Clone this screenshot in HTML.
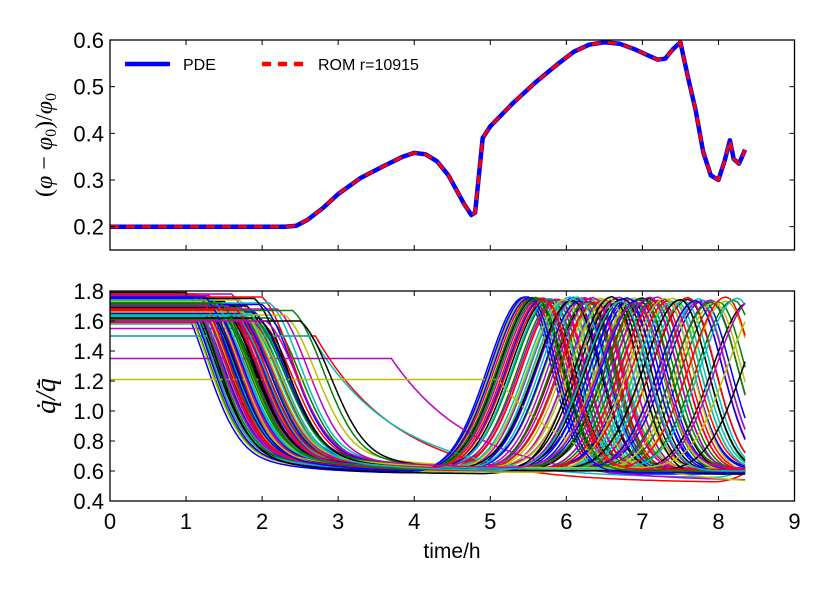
<!DOCTYPE html>
<html><head><meta charset="utf-8"><style>
html,body{margin:0;padding:0;background:#fff;}
svg{display:block;font-family:"Liberation Sans",sans-serif;}
</style></head><body>
<svg id="chart" width="830" height="593" viewBox="0 0 830 593">
<g id="top"></g>
<g id="bot"></g>
</svg>
<script>
const topT = [0,0.5,1,1.5,2,2.3,2.45,2.6,2.8,3.0,3.3,3.6,3.85,4.0,4.15,4.3,4.45,4.55,4.65,4.75,4.8,4.9,5.0,5.3,5.6,5.9,6.1,6.3,6.5,6.7,6.9,7.1,7.2,7.3,7.4,7.5,7.6,7.7,7.8,7.9,8.0,8.08,8.15,8.2,8.27,8.35];
const topV = [0.2,0.2,0.2,0.2,0.2,0.2,0.202,0.215,0.24,0.27,0.305,0.33,0.35,0.358,0.355,0.34,0.31,0.28,0.25,0.225,0.23,0.39,0.415,0.465,0.51,0.55,0.575,0.59,0.595,0.592,0.58,0.565,0.558,0.56,0.58,0.595,0.52,0.45,0.36,0.31,0.3,0.34,0.385,0.345,0.335,0.365];
const botLevels = [1.78,1.77,1.76,1.75,1.74,1.73,1.72,1.71,1.70,1.69,1.68,1.67,1.66,1.65,1.64,1.62,1.60,1.58,1.55,1.78,1.76,1.74,1.72,1.70,1.68,1.66,1.64,1.62,1.77,1.75,1.73,1.71,1.69,1.67,1.65,1.63,1.61,1.59,1.78,1.76,1.74,1.72,1.70,1.68,1.66,1.64,1.77,1.75,1.73,1.71,1.69,1.67,1.65,1.78,1.74,1.70,1.66,1.62,1.76,1.72,1.68,1.64,1.75,1.71,1.67,1.50,1.50,1.35,1.21,1.60,
 1.79,1.77,1.75,1.73,1.71,1.69,1.67,1.65,1.63,1.61,1.78,1.76,1.74,1.72,1.70,1.68,1.66,1.64,1.62,1.60,1.79,1.75,1.71,1.67,1.63,1.77,1.73,1.69,1.65,1.61,1.78,1.74,1.70,1.66,1.62,1.76,1.72,1.68,1.64,1.60];
const botDrop = [0.85,0.9,0.95,1.0,1.05,1.1,1.15,1.2,1.25,1.3,1.35,1.4,1.45,1.5,1.55,1.6,1.65,1.7,1.75,0.88,0.98,1.08,1.18,1.28,1.38,1.48,1.58,1.68,1.12,1.22,1.32,1.42,1.52,1.62,1.72,1.82,1.92,2.0,1.05,1.15,1.25,1.35,1.45,1.55,1.65,1.75,1.3,1.4,1.5,1.6,1.7,1.8,1.9,1.6,1.7,1.8,1.9,2.1,2.0,2.1,2.2,2.3,1.9,2.0,2.4,2.7,2.65,3.7,5.1,2.5,
 0.92,1.02,1.12,1.22,1.32,1.42,1.52,1.62,1.72,1.82,0.95,1.05,1.15,1.25,1.35,1.45,1.55,1.65,1.75,1.85,1.0,1.2,1.4,1.6,1.8,1.1,1.3,1.5,1.7,1.9,1.15,1.35,1.55,1.75,1.95,1.25,1.45,1.65,1.85,2.05];
const botPeak = [5.45,5.5,5.55,5.6,5.65,5.7,5.75,5.8,5.85,5.9,5.95,6.0,6.05,6.1,6.2,6.3,6.4,6.5,6.6,5.5,5.6,5.7,5.8,5.9,6.0,6.1,6.2,6.3,6.1,6.2,6.3,6.4,6.5,6.6,6.7,6.8,6.9,7.0,6.05,6.25,6.45,6.65,6.85,7.05,7.25,7.45,6.7,6.9,7.1,7.3,7.5,7.7,7.9,7.2,7.4,7.6,7.8,8.0,7.6,7.75,7.9,8.1,7.0,7.3,8.2,9.5,9.5,9.8,7.6,8.4,
 5.48,5.58,5.68,5.78,5.88,5.98,6.08,6.18,6.28,6.38,6.15,6.35,6.55,6.75,6.95,7.15,7.35,7.55,7.75,7.95,6.6,6.8,7.0,7.2,7.4,7.1,7.3,7.5,7.7,7.9,8.1,8.25,8.45,8.6,8.8,5.52,5.62,5.72,6.72,6.92];
const botFloor = [0.58,0.59,0.6,0.6,0.61,0.59,0.6,0.62,0.6,0.61,0.6,0.59,0.6,0.61,0.62,0.6,0.61,0.6,0.62,0.59,0.6,0.6,0.61,0.6,0.62,0.6,0.61,0.6,0.6,0.61,0.6,0.62,0.6,0.61,0.6,0.62,0.6,0.61,0.59,0.6,0.61,0.6,0.6,0.62,0.6,0.61,0.6,0.61,0.6,0.62,0.6,0.61,0.6,0.6,0.61,0.6,0.62,0.6,0.6,0.61,0.6,0.62,0.6,0.61,0.6,0.52,0.55,0.53,0.5,0.6,
 0.59,0.6,0.61,0.6,0.62,0.6,0.61,0.6,0.59,0.6,0.6,0.61,0.62,0.6,0.61,0.6,0.62,0.6,0.61,0.6,0.58,0.6,0.62,0.6,0.61,0.6,0.59,0.61,0.6,0.62,0.6,0.61,0.6,0.62,0.6,0.59,0.6,0.61,0.6,0.62];
const xTicks = [0,1,2,3,4,5,6,7,8,9];
const topTicks = [0.2,0.3,0.4,0.5,0.6];
const botTicks = [0.4,0.6,0.8,1.0,1.2,1.4,1.6,1.8];
const colors = ['#0000ff','#008000','#ff0000','#00bfbf','#bf00bf','#bfbf00','#000000'];

const NS="http://www.w3.org/2000/svg";
const X0=110,X1=794.5;
const xs=t=>X0+(X1-X0)*t/9;
const yTop=v=>40+(0.6-v)/(0.45)*210;
const yBot=v=>291+(1.8-v)/1.4*210;
function mk(p,tag,at){const e=document.createElementNS(NS,tag);for(const k in at)e.setAttribute(k,at[k]);p.appendChild(e);return e;}
const topG=document.getElementById('top'),botG=document.getElementById('bot');

const cp1=mk(topG,'clipPath',{id:'c1'});mk(cp1,'rect',{x:X0,y:40,width:X1-X0,height:210});
let d=topT.map((t,i)=>(i?'L':'M')+xs(t).toFixed(1)+','+yTop(topV[i]).toFixed(1)).join('');
let p=mk(topG,'path',{d:d,fill:'none',stroke:'#0000ff','stroke-width':4.5,'stroke-linejoin':'round','clip-path':'url(#c1)'});

p=mk(topG,'path',{d:d,fill:'none',stroke:'#ff0000','stroke-width':3,'stroke-dasharray':'9,7','clip-path':'url(#c1)'});


const cp2=mk(botG,'clipPath',{id:'c2'});mk(cp2,'rect',{x:X0,y:291,width:X1-X0,height:210});
function val(i,t){
  const L=botLevels[i],t0=botDrop[i],tp=botPeak[i],f=botFloor[i];
  const slow = t0>2.6;
  let g;
  if(t<t0) g=1; else { const dt=t-t0;
    g = slow ? Math.exp(-dt/1.1) : 0.7*Math.exp(-Math.pow(dt/0.6,2))+0.3*Math.exp(-dt/0.8); }
  let drop = f+(L-f)*g;
  let pk = 1.76-(1.78-L)*0.2;
  let w = t<tp?0.68:0.5;
  let rise = f+(pk-f)*Math.exp(-Math.pow((t-tp)/w,2));
  if(t0>4) rise=f;
  return Math.max(drop,rise);
}
for(let i=0;i<botLevels.length;i++){
  let s='';
  for(let k=0;k<=167;k++){const t=k*0.05;s+=(k?'L':'M')+xs(t).toFixed(1)+','+yBot(val(i,t)).toFixed(1);}
  const e=mk(botG,'path',{d:s,fill:'none',stroke:colors[i%7],'stroke-width':1.5,'clip-path':'url(#c2)'});
  
  
}

function axes(g,yt,yfun,top,bottom,labels){
  mk(g,'rect',{x:X0,y:top,width:X1-X0,height:bottom-top,fill:'none',stroke:'#000','stroke-width':1.3});
  xTicks.forEach(t=>{const x=xs(t);
    mk(g,'line',{x1:x,x2:x,y1:bottom,y2:bottom-5,stroke:'#000'});
    mk(g,'line',{x1:x,x2:x,y1:top,y2:top+5,stroke:'#000'});
    if(labels){const e=mk(g,'text',{x:x,y:bottom+28,'font-size':22,'text-anchor':'middle'});e.textContent=t;
      }
  });
  yt.forEach(v=>{const y=yfun(v);
    mk(g,'line',{x1:X0,x2:X0+5,y1:y,y2:y,stroke:'#000'});
    mk(g,'line',{x1:X1,x2:X1-5,y1:y,y2:y,stroke:'#000'});
    const e=mk(g,'text',{x:X0-6,y:y+8,'font-size':22,'text-anchor':'end'});e.textContent=v.toFixed(1);
    
  });
}
axes(topG,topTicks,yTop,40,250,false);
axes(botG,botTicks,yBot,291,501,true);
</script>
<svg width="830" height="593" style="position:absolute;left:0;top:0">
<g>
<line x1="125" y1="64" x2="170" y2="64" stroke="#0000ff" stroke-width="4.5"/>
<text x="183" y="70" font-size="16" font-family="Liberation Sans,sans-serif">PDE</text>
<line x1="262" y1="64" x2="305" y2="64" stroke="#ff0000" stroke-width="4.5" stroke-dasharray="9,7"/>
<text x="318" y="70" font-size="16" font-family="Liberation Sans,sans-serif">ROM r=10915</text>
</g>
<text transform="translate(52,145) rotate(-90)" text-anchor="middle" font-size="24" font-family="Liberation Serif,serif">(<tspan font-style="italic">φ</tspan> − <tspan font-style="italic">φ</tspan><tspan font-size="16" dy="4">0</tspan><tspan dy="-4">)/</tspan><tspan font-style="italic">φ</tspan><tspan font-size="16" dy="4">0</tspan></text>
<text transform="translate(55,396) rotate(-90)" text-anchor="middle" font-size="28" font-family="Liberation Serif,serif" font-style="italic">q̇/q̄̇</text>
<text x="452" y="558" text-anchor="middle" font-size="21" font-family="Liberation Sans,sans-serif">time/h</text>
</svg>
</body></html>
